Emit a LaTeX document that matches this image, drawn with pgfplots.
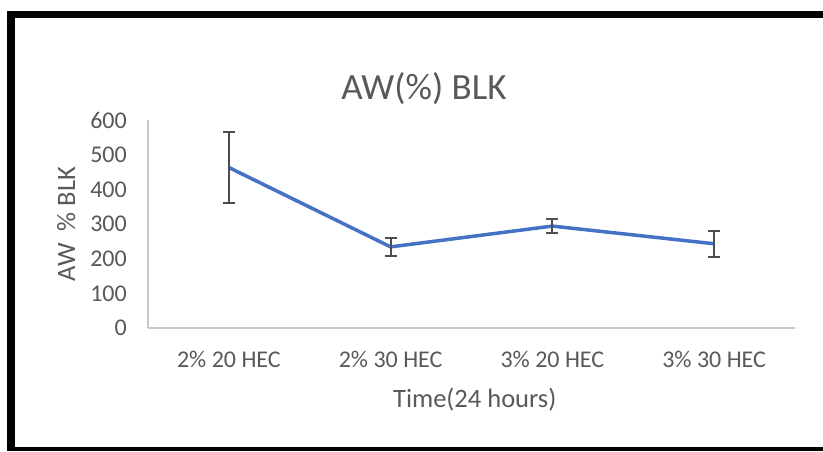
\documentclass[border=0pt]{standalone}
\usepackage{fontspec}
\setmainfont{Carlito}
\usepackage{pgfplots}
\pgfplotsset{compat=1.18}
\definecolor{txt}{HTML}{595959}
\definecolor{ser}{HTML}{4472C4}
\definecolor{axl}{HTML}{C8C8C8}
\definecolor{err}{HTML}{4D4D4D}
\begin{document}
\begin{tikzpicture}[x=1pt,y=1pt]
\path[use as bounding box] (0,0) rectangle (823,451);
\fill[white] (0,0) rectangle (823,451);
\fill[black] (7,0) rectangle (15,440);
\fill[black] (7,433) rectangle (823,440);
\fill[black] (7,0) rectangle (823,4);
\begin{axis}[
  at={(148pt,123pt)}, anchor=south west,
  scale only axis, width=647pt, height=208pt,
  xmin=-0.5, xmax=3.5, ymin=0, ymax=600,
  axis x line=bottom, axis y line=left,
  axis line style={axl, line width=1.2pt, -},
  xtick={0,1,2,3},
  xticklabels={2\% 20 HEC, 2\% 30 HEC, 3\% 20 HEC, 3\% 30 HEC},
  ytick={0,100,200,300,400,500,600},
  major tick length=0pt,
  /pgf/number format/assume math mode=true,
  tick label style={font=\fontsize{24}{28}\selectfont, text=txt, inner sep=0pt},
  yticklabel style={anchor=east, xshift=-21pt},
  xticklabel style={anchor=base, yshift=-39pt},
  title={AW(\%) BLK},
  title style={at={(axis description cs:0.4266,1.07)}, anchor=base, font=\fontsize{37}{44}\selectfont, text=txt, inner sep=0pt},
  xlabel={Time(24 hours)},
  xlabel style={at={(axis description cs:0.505,-0.380)}, anchor=base, font=\fontsize{26.5}{30}\selectfont, text=txt, inner sep=0pt},
  ylabel={AW~~\% BLK},
  ylabel style={at={(axis description cs:-0.1128,0.5)}, anchor=base, rotate=0, font=\fontsize{26.5}{30}\selectfont, text=txt, inner sep=0pt},
  clip=false,
]
\addplot[ser, line width=3.5pt, line join=round, no markers,
  error bars/.cd, y dir=both, y explicit, error mark=|,
  error mark options={err, line width=2pt, mark size=6pt},
  error bar style={err, line width=2pt}]
  coordinates {(0,463) +- (0,102) (1,234) +- (0,26) (2,294) +- (0,21) (3,243) +- (0,37)};
\end{axis}
\end{tikzpicture}
\end{document}
